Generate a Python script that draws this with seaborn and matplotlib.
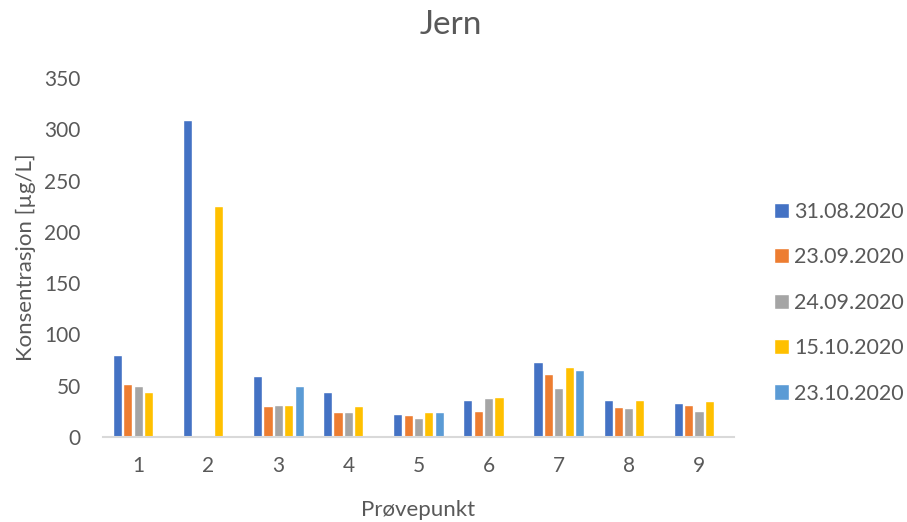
import numpy as np
import pandas as pd
import matplotlib
matplotlib.use("Agg")
import matplotlib.pyplot as plt
import seaborn as sns

# Iron concentration per sampling point and sampling date
points = ["1", "2", "3", "4", "5", "6", "7", "8", "9"]
dates = ["31.08.2020", "23.09.2020", "24.09.2020", "15.10.2020", "23.10.2020"]
jern_3108 = [80, 309, 59, 44, 22, 36, 73, 36, 33]
jern_2309 = [52, np.nan, 30, 24, 21, 25, 61, 29, 31]
jern_2409 = [50, np.nan, 31, 24, 18, 38, 48, 28, 25]
jern_1510 = [44, 225, 31, 30, 24, 39, 68, 36, 35]
jern_2310 = [np.nan, np.nan, 50, np.nan, 24, np.nan, 65, np.nan, np.nan]
colors = ["#4472C4", "#ED7D31", "#A5A5A5", "#FFC000", "#5B9BD5"]

series = [jern_3108, jern_2309, jern_2409, jern_1510, jern_2310]
df = pd.DataFrame(
    [(p, d, v) for d, vals in zip(dates, series) for p, v in zip(points, vals)],
    columns=["Prøvepunkt", "Dato", "Konsentrasjon"],
)

sns.set_theme(style="white")
plt.rcParams["font.family"] = ["Lato", "DejaVu Sans"]
text_color = "#595959"

fig = plt.figure(figsize=(9.07, 5.22), dpi=100)
ax = fig.add_axes([0.1136, 0.163, 0.6957, 0.6875])

sns.barplot(
    data=df, x="Prøvepunkt", y="Konsentrasjon", hue="Dato",
    order=points, hue_order=dates, palette=colors, saturation=1,
    errorbar=None, width=0.74, gap=0.12, ax=ax,
)

ax.set_ylim(0, 350)
ax.set_yticks(np.arange(0, 351, 50))
ax.set_xlim(-0.5, len(points) - 0.5)
ax.tick_params(axis="both", length=0, labelsize=15, colors=text_color)
ax.tick_params(axis="y", pad=16)
ax.tick_params(axis="x", pad=14)
for s in ["top", "right", "left"]:
    ax.spines[s].set_visible(False)
ax.spines["bottom"].set_color("#D9D9D9")
ax.spines["bottom"].set_linewidth(1.5)
ax.grid(False)

ax.set_xlabel("Prøvepunkt", fontsize=16, color=text_color, labelpad=17)
ax.set_ylabel("Konsentrasjon [µg/L]", fontsize=16, color=text_color, labelpad=6)
fig.text(0.497, 0.952, "Jern", ha="center", va="center", fontsize=24, color=text_color)

handles, labels = ax.get_legend_handles_labels()
ax.legend_.remove()
leg = fig.legend(
    handles, labels, loc="center left", bbox_to_anchor=(0.832, 0.42),
    frameon=False, fontsize=15.5, handlelength=0.7, handleheight=0.7,
    handletextpad=0.25, labelspacing=1.18,
)
for t in leg.get_texts():
    t.set_color(text_color)

fig.savefig("out.png", dpi=100)
